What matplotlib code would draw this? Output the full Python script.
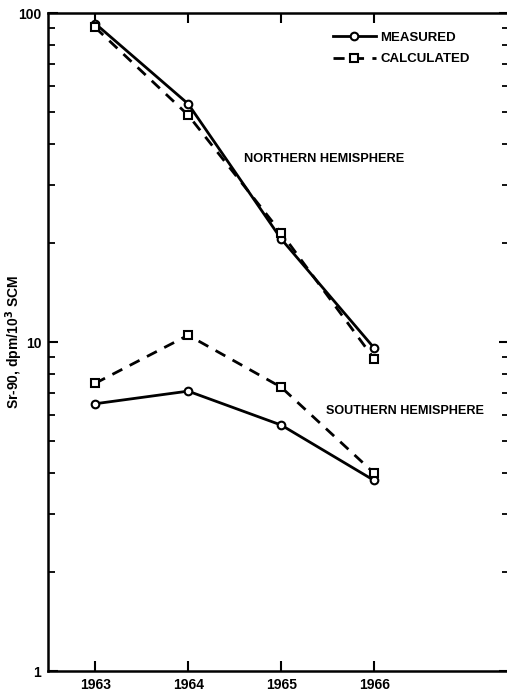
import matplotlib.pyplot as plt
from matplotlib.ticker import FixedLocator, NullFormatter, LogLocator

# Sr-90 concentrations, dpm/10^3 SCM
years = [1963, 1964, 1965, 1966]
nh_measured = [93.0, 53.0, 20.6, 9.6]
nh_calculated = [90.5, 49.0, 21.5, 8.9]
sh_measured = [6.5, 7.1, 5.6, 3.8]
sh_calculated = [7.5, 10.5, 7.3, 4.0]

plt.rcParams['font.family'] = ['Liberation Sans', 'DejaVu Sans']
plt.rcParams['font.weight'] = 'bold'

fig = plt.figure(figsize=(5.07, 6.92), dpi=100)
ax = fig.add_axes([0.095, 0.030, 0.909, 0.951])

solid = dict(color='black', linewidth=2.0, marker='o', markersize=5.5,
             markerfacecolor='white', markeredgecolor='black', markeredgewidth=1.5)
dashed = dict(color='black', linewidth=2.0, linestyle=(0, (4, 3)), marker='s', markersize=5.5,
              markerfacecolor='white', markeredgecolor='black', markeredgewidth=1.5)

ax.plot(years, nh_measured, label='MEASURED', **solid)
ax.plot(years, nh_calculated, label='CALCULATED', **dashed)
ax.plot(years, sh_measured, **solid)
ax.plot(years, sh_calculated, **dashed)

ax.set_yscale('log')
ax.set_ylim(1, 100)
ax.set_xlim(1962.495, 1967.45)

ax.set_xticks(years)
ax.set_xticklabels([str(y) for y in years], fontsize=10, fontweight='bold')
ax.yaxis.set_major_locator(FixedLocator([1, 10, 100]))
ax.set_yticklabels(['1', '10', '100'], fontsize=10, fontweight='bold')
ax.yaxis.set_minor_locator(LogLocator(base=10, subs=range(2, 10)))
ax.yaxis.set_minor_formatter(NullFormatter())

ax.tick_params(axis='both', which='major', direction='in', length=7, width=1.5,
               top=True, right=True, pad=5)
ax.tick_params(axis='y', which='minor', direction='in', length=5, width=1.3, right=True)
for s in ax.spines.values():
    s.set_linewidth(1.8)

ax.set_ylabel('Sr-90, dpm/10$^3$ SCM', fontsize=10, fontweight='bold')
ax.yaxis.set_label_coords(-0.05, 0.5)

ax.text(1964.6, 36, 'NORTHERN HEMISPHERE', fontsize=9.2, fontweight='bold', va='center')
ax.text(1965.48, 6.2, 'SOUTHERN HEMISPHERE', fontsize=9.1, fontweight='bold', va='center')

ax.legend(loc='upper right', bbox_to_anchor=(0.94, 0.99), frameon=False,
          handlelength=3.3, handletextpad=0.3, labelspacing=0.7,
          prop={'weight': 'bold', 'size': 9.5})

fig.savefig('out.png', dpi=100)
